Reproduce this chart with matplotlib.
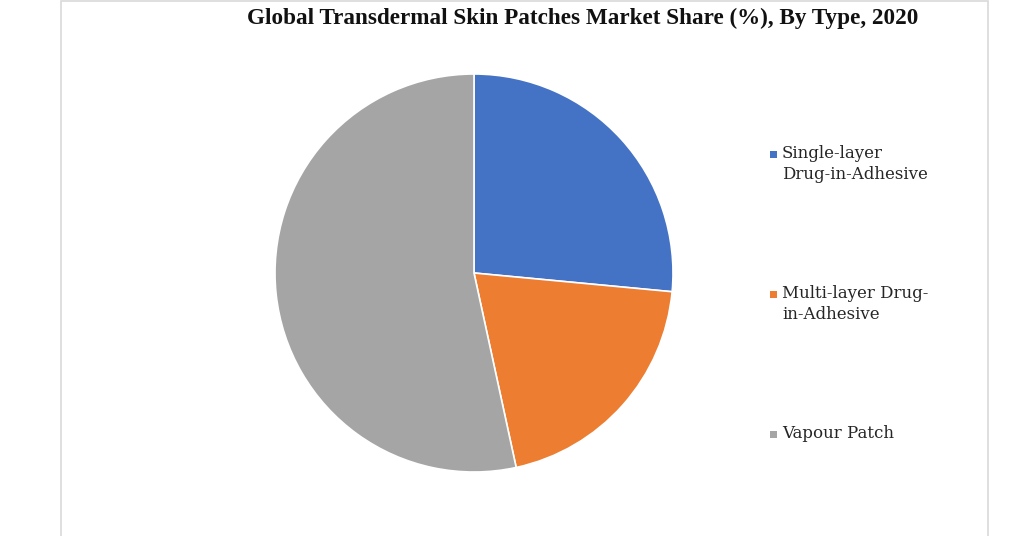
"""
Pie chart: global transdermal skin patches market share by type, 2020.
"""

import matplotlib
matplotlib.use("Agg")
import matplotlib.pyplot as plt
from matplotlib.patches import Rectangle

# ============ data ============
TITLE = "Global Transdermal Skin Patches Market Share (%), By Type, 2020"
CATEGORIES = ["Single-layer\nDrug-in-Adhesive", "Multi-layer Drug-\nin-Adhesive", "Vapour Patch"]
SHARES = [26.5, 20.1, 53.4]
COLORS = ["#4472C4", "#ED7D31", "#A5A5A5"]

W, H = 1024, 536


def fx(px):
    return px / W


def fy(py):
    return 1 - py / H


def main():
    fig = plt.figure(figsize=(W / 100, H / 100), dpi=100)
    fig.patch.set_facecolor("white")

    # outer frame (light gray)
    frame = Rectangle((fx(61), fy(600)), fx(988) - fx(61), fy(1) - fy(600),
                      transform=fig.transFigure, fill=False,
                      edgecolor="#d9d9d9", linewidth=1.2)
    fig.add_artist(frame)

    # pie
    cx, cy, r = 474, 273, 199
    ax = fig.add_axes([fx(cx - r), fy(cy + r), 2 * r / W, 2 * r / H])
    ax.pie(SHARES, colors=COLORS, startangle=90, counterclock=False,
           wedgeprops=dict(edgecolor="white", linewidth=1.2))
    ax.set_xlim(-1, 1)
    ax.set_ylim(-1, 1)
    ax.axis("off")

    fig.text(fx(583), fy(18), TITLE, ha="center", va="center",
             fontsize=16.7, fontweight="bold", family="Liberation Serif",
             color="#111111")

    # legend, drawn by hand to keep Excel-like spacing
    for i, (lab, col) in enumerate(zip(CATEGORIES, COLORS)):
        y = 154 + 140 * i
        sq = 7
        fig.add_artist(Rectangle((fx(770), fy(y + sq / 2)), sq / W, sq / H,
                                 transform=fig.transFigure, facecolor=col,
                                 edgecolor="none"))
        fig.text(fx(782), fy(y - 9), lab, ha="left", va="top",
                 fontsize=12, family="DejaVu Serif", color="#262626",
                 linespacing=1.33)

    fig.savefig("out.png", dpi=100)
    plt.close(fig)


if __name__ == "__main__":
    main()
